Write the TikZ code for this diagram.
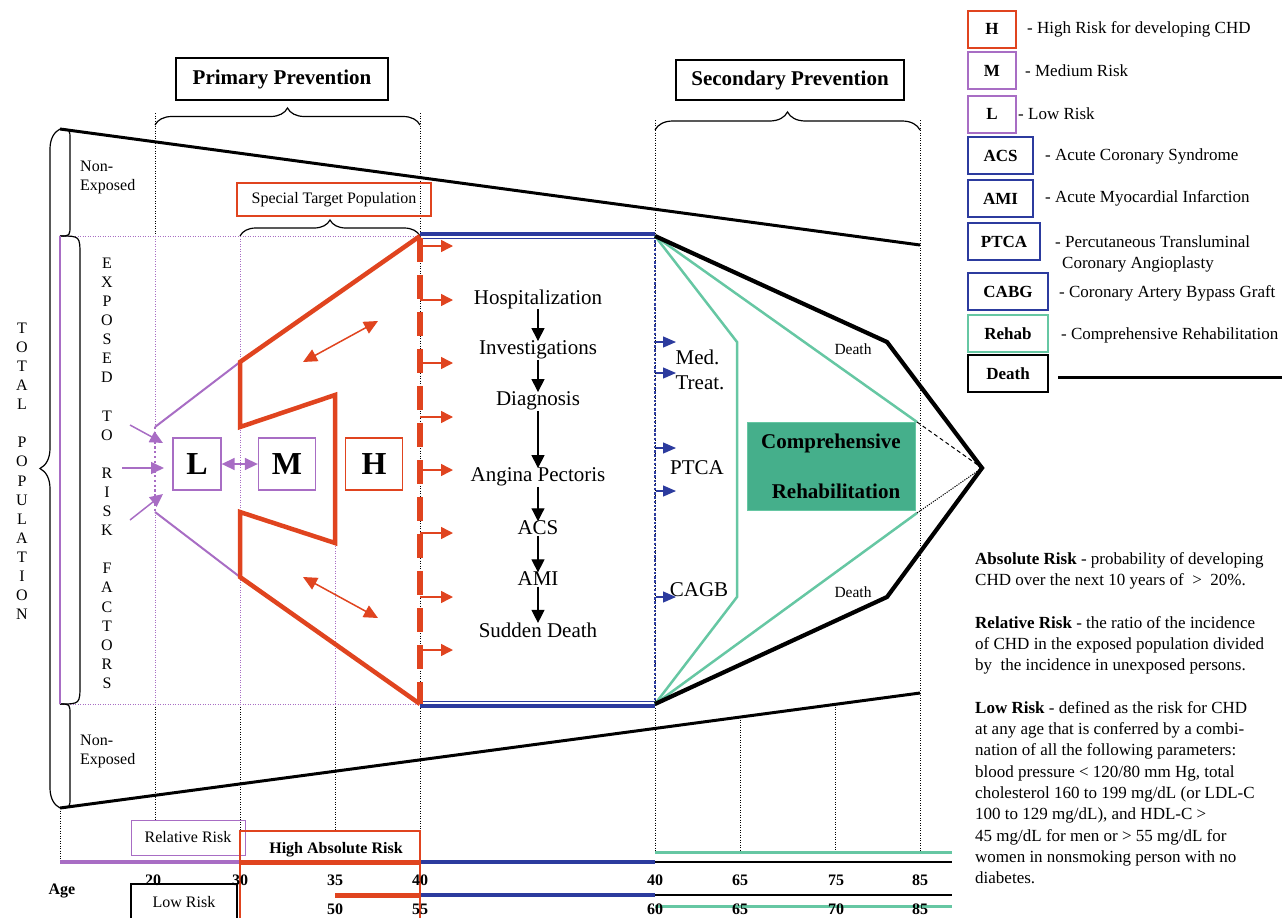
\documentclass[tikz,border=0pt]{standalone}
\usepackage{fontspec}
\setmainfont{Liberation Serif}
\usetikzlibrary{arrows.meta,decorations.pathreplacing}
\definecolor{rred}{HTML}{E0441F}
\definecolor{ppur}{HTML}{A86DC4}
\definecolor{bblue}{HTML}{2C3B9E}
\definecolor{ggreen}{HTML}{66C7A3}
\definecolor{gfill}{HTML}{45AF8B}
\begin{document}
\begin{tikzpicture}[x=1pt,y=-1pt,
 f16/.style={font=\fontsize{16}{19}\selectfont},
 f16b/.style={font=\bfseries\fontsize{16}{19}\selectfont},
 f17/.style={font=\fontsize{17}{21.3}\selectfont},
 f17b/.style={font=\bfseries\fontsize{17}{21}\selectfont},
 f21/.style={font=\fontsize{21}{25}\selectfont},
 f21b/.style={font=\bfseries\fontsize{21}{25}\selectfont},
 dotblk/.style={line width=0.9pt, dash pattern=on 1.2pt off 1.3pt},
 dotpur/.style={ppur, line width=0.9pt, dash pattern=on 1.2pt off 1.3pt},
 bracestyle/.style={decorate, decoration={brace, amplitude=#1}, line width=1.2pt},
 legbox/.style={draw, line width=2pt, minimum height=37pt, inner sep=0pt, f17b},
 legtxt/.style={f17, anchor=west, inner sep=0pt},
 flowarr/.style={-{Triangle[width=13pt,length=13pt]}, line width=1.2pt, shorten <=-1pt, shorten >=-2pt},
 redarr/.style={rred, line width=1.5pt, -{Triangle[width=12pt,length=12pt]}},
 redarr2/.style={rred, line width=1.5pt, {Triangle[width=13pt,length=14pt]}-{Triangle[width=13pt,length=14pt]}},
 purarr/.style={ppur, line width=1.5pt, -{Triangle[width=12pt,length=13pt]}},
 bluarr/.style={bblue, line width=1.2pt, -{Triangle[width=11pt,length=13pt]}},
 riskbox/.style={draw, line width=1.3pt, minimum width=50pt, minimum height=52pt, inner sep=0pt, font=\bfseries\fontsize{32}{36}\selectfont},
]
\useasboundingbox (0,0) rectangle (1282,918);

% ---------------- coordinates ----------------
\coordinate (TL) at (60,129);
\coordinate (BL) at (60,808);
\coordinate (TR) at (920,245);
\coordinate (BR) at (920,693);
\coordinate (e1) at (60,236);
\coordinate (e2) at (60,704);

% ---------------- dotted verticals ----------------
\draw[dotblk] (155,113) -- (155,236);
\draw[dotpur] (155,236) -- (155,427);
\draw[dotpur] (155,512) -- (155,704);
\draw[dotblk] (155,704) -- (155,820);
\draw[dotpur] (240,236) -- (240,362);
\draw[dotpur] (240,427) -- (240,512);
\draw[dotpur] (240,577) -- (240,704);
\draw[dotblk] (240,704) -- (240,831);
\draw[dotpur] (335,543) -- (335,704);
\draw[dotblk] (335,704) -- (335,831);
\draw[dotblk] (420,113) -- (420,831);
\draw[dotblk] (60,808) -- (60,862);
\draw[dotblk] (655,120) -- (655,852);
\draw[dotblk] (740,717) -- (740,852);
\draw[dotblk] (835,704) -- (835,852);
\draw[dotblk] (920,120) -- (920,852);
\draw[dotpur] (e1) -- (420,236);
\draw[dotpur] (e2) -- (420,704);

% ---------------- headings ----------------
\node[draw, line width=1.2pt, minimum width=212pt, minimum height=42pt, inner sep=0pt, f21b] (prim) at (282,79) {Primary Prevention};
\node[draw, line width=1.2pt, minimum width=228pt, minimum height=40pt, inner sep=0pt, f21b] (sec) at (790,80) {Secondary Prevention};
\draw[bracestyle=17pt] (155,125) -- (420,125);
\draw[bracestyle=18pt] (655,130) -- (920,130);
\node[draw=rred, line width=1.2pt, minimum width=194pt, minimum height=33pt, inner sep=0pt, f16] (stp) at (334,199.5) {Special Target Population};
\draw[bracestyle=16pt] (240,236) -- (420,236);

% ---------------- population funnel ----------------
\draw[line width=3pt] (TL) -- (TR);
\draw[line width=3pt] (BL) -- (BR);
\draw[bracestyle=20pt] (BL) -- (TL);
\draw[line width=1.2pt] (TL) .. controls (70,129) .. (70,140) -- (70,225) .. controls (70,236) .. (e1);
\draw[line width=1.2pt] (e2) .. controls (70,704) .. (70,715) -- (70,797) .. controls (70,808) .. (BL);
\draw[line width=1.2pt] (e1) .. controls (80,236) .. (80,256) -- (80,684) .. controls (80,704) .. (e2);
\draw[ppur, line width=2pt] (e1) -- (e2);

\node[f16, anchor=west, align=left, inner sep=0pt] (ne1) at (80,177) {Non-\\Exposed};
\node[f16, anchor=west, align=left, inner sep=0pt] (ne2) at (80,751) {Non-\\Exposed};

\foreach \c [count=\i from 0] in {T,O,T,A,L,,P,O,P,U,L,A,T,I,O,N}
  \node[f16, inner sep=0pt] (tp\i) at (22,328+\i*19.1) {\c};
\foreach \c [count=\i from 0] in {E,X,P,O,S,E,D,,T,O,,R,I,S,K,,F,A,C,T,O,R,S}
  \node[f16, inner sep=0pt] (ex\i) at (107,263+\i*19.1) {\c};

% ---------------- blue acute-phase box ----------------
\draw[bblue, line width=3.5pt] (420,234) -- (655,234);
\draw[bblue, line width=1.3pt] (420,238.5) -- (655,238.5);
\draw[bblue, line width=3.5pt] (420,706) -- (655,706);
\draw[bblue, line width=1.3pt] (420,701.5) -- (655,701.5);
\draw[bblue, line width=2.6pt, dash pattern=on 2.4pt off 1.8pt] (655,236) -- (655,704);

% ---------------- risk shapes ----------------
\coordinate (p1) at (420,236);
\coordinate (p2) at (240,362);
\coordinate (p3) at (240,427);
\coordinate (p4) at (335,395);
\coordinate (p5) at (335,543);
\coordinate (p6) at (240,512);
\coordinate (p7) at (240,577);
\coordinate (p8) at (420,704);
\coordinate (q1) at (155,427);
\coordinate (q2) at (155,512);
\draw[ppur, line width=2pt] (q1) -- (p2);
\draw[ppur, line width=2pt] (q2) -- (p7);
\draw[rred, line width=4.5pt, line join=miter] (p1) -- (p2) -- (p3) -- (p4) -- (p5) -- (p6) -- (p7) -- (p8);
\draw[ppur, line width=2.6pt, dash pattern=on 2.4pt off 2.4pt] (q1) -- (q2);
\draw[rred, line width=6pt, dash pattern=on 24pt off 13pt] (420,238) -- (420,704);

\node[riskbox, draw=ppur, minimum width=48pt] (L) at (197,464) {L};
\node[riskbox, draw=ppur, minimum width=57pt] (M) at (287,464) {M};
\node[riskbox, draw=rred, minimum width=57pt] (H) at (374,464) {H};
\draw[ppur, line width=1.5pt, {Triangle[width=12pt,length=13pt]}-{Triangle[width=12pt,length=13pt]}] (L) -- (M);

\coordinate (pa1) at (130,425);
\coordinate (pa2) at (122,468);
\coordinate (pa3) at (130,520);
\coordinate (pb1) at (163,443);
\coordinate (pb2) at (164,468);
\coordinate (pb3) at (163,494);
\draw[purarr] (pa1) -- (pb1);
\draw[purarr] (pa2) -- (pb2);
\draw[purarr] (pa3) -- (pb3);

\coordinate (ra1) at (303,362);
\coordinate (ra2) at (378,321);
\coordinate (ra3) at (303,577);
\coordinate (ra4) at (378,618);
\draw[redarr2] (ra1) -- (ra2);
\draw[redarr2] (ra3) -- (ra4);

\foreach \yy [count=\k] in {246,300,363,417,470,533,597,650} {
  \coordinate (rs\k) at (420,\yy);
  \coordinate (re\k) at (453,\yy);
  \draw[redarr] (rs\k) -- (re\k);
}

% ---------------- flow ----------------
\node[f21, inner sep=1.5pt] (hosp) at (538,299) {Hospitalization};
\node[f21, inner sep=1.5pt] (inv) at (538,350) {Investigations};
\node[f21, inner sep=1.5pt] (diag) at (538,401) {Diagnosis};
\node[f21, inner sep=1.5pt] (ang) at (538,477) {Angina Pectoris};
\node[f21, inner sep=1.5pt] (acs) at (538,528) {ACS};
\node[f21, inner sep=1.5pt] (ami) at (538,579) {AMI};
\node[f21, inner sep=1.5pt] (sd) at (538,630) {Sudden Death};
\draw[flowarr] (hosp) -- (inv);
\draw[flowarr] (inv) -- (diag);
\draw[flowarr] (diag) -- (ang);
\draw[flowarr] (ang) -- (acs);
\draw[flowarr] (acs) -- (ami);
\draw[flowarr] (ami) -- (sd);

% ---------------- secondary ----------------
\foreach \yy [count=\k] in {342,373,448,491,597} {
  \coordinate (bs\k) at (656,\yy);
  \coordinate (be\k) at (676,\yy);
  \draw[bluarr] (bs\k) -- (be\k);
}
\node[f21, align=left, inner sep=0pt] (med) at (700,370) {Med.\\Treat.};
\node[f21, inner sep=0pt] (ptca) at (697,468) {PTCA};
\node[f21, inner sep=0pt] (cagb) at (699,590) {CAGB};

\coordinate (s0) at (655,236);
\coordinate (s4) at (655,704);
\coordinate (s1) at (887,342);
\coordinate (s2) at (982,468);
\coordinate (s3) at (887,597);
\coordinate (g1) at (737,342);
\coordinate (g2) at (737,597);
\coordinate (g3) at (917,422);
\coordinate (g4) at (917,513);
\draw[ggreen, line width=2.5pt] (s0) -- (g1) -- (g2) -- (s4);
\draw[ggreen, line width=2.5pt] (s0) -- (g3);
\draw[ggreen, line width=2.5pt] (s4) -- (g4);
\draw[line width=1pt, dash pattern=on 4pt off 3pt] (g3) -- (s2);
\draw[line width=1pt, dash pattern=on 1.2pt off 1.2pt] (g4) -- (s2);
\node[fill=gfill, draw=ggreen, line width=1pt, minimum width=168pt, minimum height=88pt, inner sep=0pt, align=center, font=\bfseries\fontsize{21}{50}\selectfont] (rehab) at (831,466) {Comprehensive\\\hspace*{10pt}Rehabilitation};
\draw[line width=4.2pt, line join=miter] (s0) -- (s1) -- (s2) -- (s3) -- (s4);
\node[font=\fontsize{15.5}{18}\selectfont, inner sep=0pt] (d1) at (853,349) {Death};
\node[font=\fontsize{15.5}{18}\selectfont, inner sep=0pt] (d2) at (853,592) {Death};

% ---------------- age axis ----------------
\draw[ppur, line width=4.5pt] (60,862) -- (240,862);
\draw[rred, line width=5pt] (240,862) -- (420,862);
\draw[bblue, line width=4.5pt] (420,862) -- (655,862);
\draw[line width=2.2pt] (655,862) -- (952,862);
\draw[ggreen, line width=3pt] (655,852) -- (952,852);
\draw[rred, line width=5pt] (335,895) -- (420,895);
\draw[bblue, line width=4.5pt] (420,895) -- (655,895);
\draw[line width=2.2pt] (655,895) -- (952,895);
\draw[ggreen, line width=3pt] (655,906) -- (952,906);

\node[draw=ppur, line width=1pt, minimum width=114pt, minimum height=35pt, inner sep=0pt, f16] (relr) at (188,837.5) {Relative Risk};
\node[draw=rred, line width=2.2pt, minimum width=180pt, minimum height=88pt, inner sep=0pt] (har) at (330,875) {};
\node[f16b, inner sep=0pt] (hartxt) at (336,850) {High Absolute Risk};
\node[draw, line width=1.5pt, minimum width=106pt, minimum height=36pt, inner sep=0pt, f16] (lowr) at (184,902) {Low Risk};
\node[f16b, inner sep=0pt] (age) at (62,891) {Age};

\foreach \xx/\t [count=\k] in {153/20,240/30,335/35,420/40,655/40,740/65,836/75,920/85}
  \node[f16b, inner sep=0pt] (ta\k) at (\xx,880) {\t};
\foreach \xx/\t [count=\k] in {335/50,420/55,655/60,740/65,836/70,920/85}
  \node[f16b, inner sep=0pt] (tb\k) at (\xx,909) {\t};

% ---------------- legend ----------------
\node[legbox, draw=rred, minimum width=48pt] (lgH) at (992,29) {H};
\node[legbox, draw=ppur, minimum width=48pt] (lgM) at (992,70.5) {M};
\node[legbox, draw=ppur, minimum width=48pt] (lgL) at (992,114) {L};
\node[legbox, draw=bblue, minimum width=65pt] (lgACS) at (1000.5,155.5) {ACS};
\node[legbox, draw=bblue, minimum width=65pt] (lgAMI) at (1000.5,198.5) {AMI};
\node[legbox, draw=bblue, minimum width=72pt] (lgPTCA) at (1004,241.5) {PTCA};
\node[legbox, draw=bblue, minimum width=80pt] (lgCABG) at (1008,291.5) {CABG};
\node[legbox, draw=ggreen, minimum width=80pt] (lgRehab) at (1008,333.5) {Rehab};
\node[legbox, draw=black, minimum width=80pt] (lgDeath) at (1008,373.5) {Death};

\node[legtxt] (tH) at (1027,29) {- High Risk for developing CHD};
\node[legtxt] (tM) at (1025,71) {- Medium Risk};
\node[legtxt] (tL) at (1018,114) {- Low Risk};
\node[legtxt] (tACS) at (1045,156) {- Acute Coronary Syndrome};
\node[legtxt] (tAMI) at (1045,198) {- Acute Myocardial Infarction};
\node[legtxt] (tPTCA) at (1055,242) {- Percutaneous Transluminal};
\node[legtxt] (tPTCA2) at (1062,264) {Coronary Angioplasty};
\node[legtxt] (tCABG) at (1059,293) {- Coronary Artery Bypass Graft};
\node[legtxt] (tRehab) at (1061,335) {- Comprehensive Rehabilitation};
\coordinate (dl1) at (1058,377);
\coordinate (dl2) at (1282,377);
\draw[line width=3pt] (dl1) -- (dl2);

% ---------------- definitions ----------------
\node[f17, anchor=north west, align=left, inner sep=0pt] (defs) at (975,552) {%
\textbf{Absolute Risk} - probability of developing\\
CHD over the next 10 years of \ > \ 20\%.\\[21.3pt]
\textbf{Relative Risk} - the ratio of the incidence\\
of CHD in the exposed population divided\\
by \ the incidence in unexposed persons.\\[21.3pt]
\textbf{Low Risk} - defined as the risk for CHD\\
at any age that is conferred by a combi-\\
nation of all the following parameters:\\
blood pressure < 120/80 mm Hg, total\\
cholesterol 160 to 199 mg/dL (or LDL-C\\
100 to 129 mg/dL), and HDL-C >\\
45 mg/dL for men or > 55 mg/dL for\\
women in nonsmoking person with no\\
diabetes.};
\end{tikzpicture}
\end{document}
